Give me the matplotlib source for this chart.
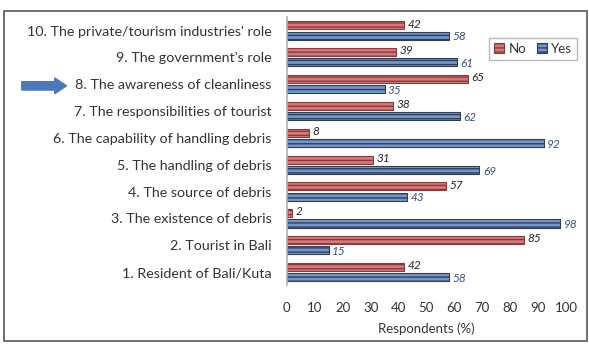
import numpy as np
import matplotlib
matplotlib.use("Agg")
import matplotlib.pyplot as plt
from matplotlib.patches import FancyArrow, Rectangle

# categories listed bottom to top
categories = [
    "1. Resident of Bali/Kuta",
    "2. Tourist in Bali",
    "3. The existence of debris",
    "4. The source of debris",
    "5. The handling of debris",
    "6. The capability of handling debris",
    "7. The responsibilities of tourist",
    "8. The awareness of cleanliness",
    "9. The government's role",
    "10. The private/tourism industries' role",
]
no_vals = [42, 85, 2, 57, 31, 8, 38, 65, 39, 42]
yes_vals = [58, 15, 98, 43, 69, 92, 62, 35, 61, 58]
xticks = list(range(0, 101, 10))

plt.rcParams["font.family"] = ["Lato", "DejaVu Sans"]
TXT = "#333333"

fig = plt.figure(figsize=(5.89, 3.49), dpi=100)
ax = fig.add_axes([0.487, 0.182, 0.474, 0.769])

y = np.arange(len(categories))
h = 0.3
off = 0.19
rb = ax.barh(y + off, no_vals, height=h, color="#d07a7c", edgecolor="#8a3a3c",
             linewidth=0.8, hatch="----", label="No")
bb = ax.barh(y - off, yes_vals, height=h, color="#7896c4", edgecolor="#2e3f5c",
             linewidth=0.8, hatch="----", label="Yes")

for yi, v in zip(y, no_vals):
    ax.text(v + 1.2, yi + off + 0.05, str(v), fontsize=8.5, style="italic",
            color="#222222", va="center", ha="left")
for yi, v in zip(y, yes_vals):
    ax.text(v + 1.2, yi - off - 0.05, str(v), fontsize=8.5, style="italic",
            color="#3a4f7a", va="center", ha="left")

ax.set_xlim(0, 100)
ax.set_ylim(-0.5, len(categories) - 0.5)
ax.set_xticks(xticks)
ax.set_yticks(y)
ax.set_yticklabels(categories, fontsize=10.3, color=TXT)
ax.tick_params(axis="both", length=0, colors=TXT)
ax.tick_params(axis="y", pad=11)
ax.tick_params(axis="x", pad=12, labelsize=9.5)
ax.set_xlabel("Respondents (%)", fontsize=9.5, color=TXT, labelpad=6)
for s in ["top", "right", "bottom"]:
    ax.spines[s].set_visible(False)
ax.spines["left"].set_color("#b0b0b0")
ax.spines["left"].set_linewidth(1.2)

leg = fig.legend(handles=[rb, bb], labels=["No", "Yes"], ncol=2, fontsize=9.5,
                 loc="center", bbox_to_anchor=(0.905, 0.86), handlelength=0.8,
                 handleheight=0.8, handletextpad=0.3, columnspacing=0.8,
                 fancybox=False, edgecolor="#aaaaaa", borderpad=0.4)
for t in leg.get_texts():
    t.set_color(TXT)

# arrow pointing at item 8
fig.patches.append(FancyArrow(0.037, 0.754, 0.076, 0, width=0.024,
                              head_width=0.045, head_length=0.02,
                              length_includes_head=True, color="#4a78b8",
                              edgecolor="#3b64a0", transform=fig.transFigure))

# outer frame
fig.patches.append(Rectangle((0.0068, 0.023), 0.99, 0.946, fill=False,
                             edgecolor="#555555", linewidth=1.2,
                             transform=fig.transFigure))

fig.savefig("out.png", dpi=100)
